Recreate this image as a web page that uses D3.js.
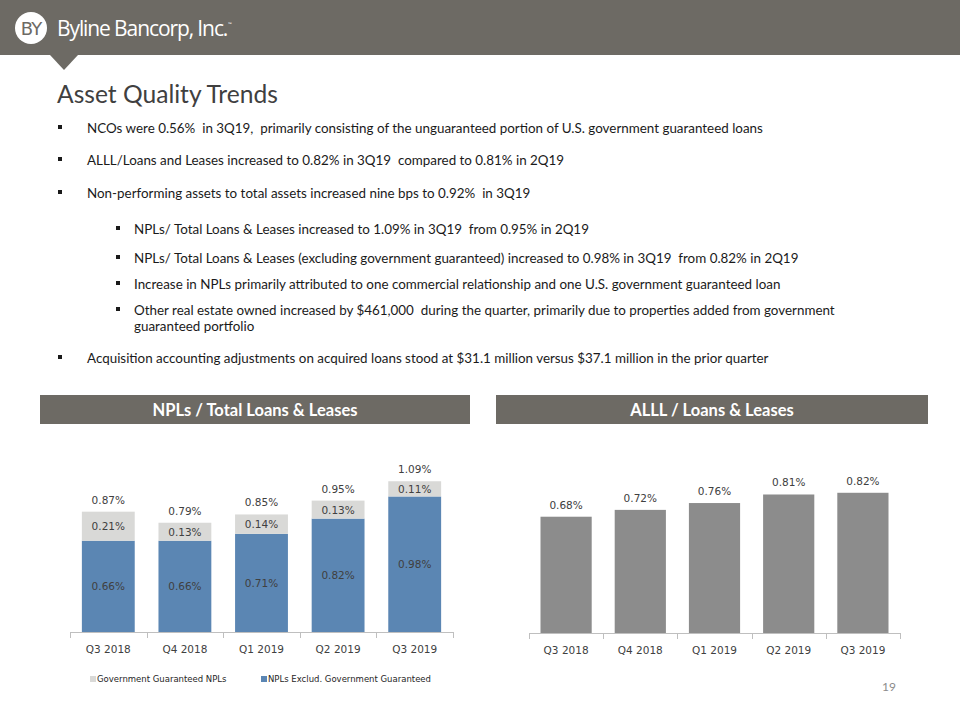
<!DOCTYPE html>
<html><head><meta charset="utf-8">
<script src="https://cdn.jsdelivr.net/npm/d3@7"></script>
<style>body{margin:0;background:#fff}svg{display:block}</style>
</head><body>
<svg id="c" width="960" height="720"></svg>
<script>
const categories = ["Q3 2018","Q4 2018","Q1 2019","Q2 2019","Q3 2019"];
const govGuaranteed = [0.21,0.13,0.14,0.13,0.11];
const nplExcl = [0.66,0.66,0.71,0.82,0.98];
const nplTotal = [0.87,0.79,0.85,0.95,1.09];
const alll = [0.68,0.72,0.76,0.81,0.82];
const legendLabels = ["Government Guaranteed NPLs","NPLs Exclud. Government Guaranteed"];
const bullets = [
 {lvl:0, t:"NCOs were 0.56%  in 3Q19,  primarily consisting of the unguaranteed portion of U.S. government guaranteed loans", y:133},
 {lvl:0, t:"ALLL/Loans and Leases increased to 0.82% in 3Q19  compared to 0.81% in 2Q19", y:165},
 {lvl:0, t:"Non-performing assets to total assets increased nine bps to 0.92%  in 3Q19", y:198},
 {lvl:1, t:"NPLs/ Total Loans & Leases increased to 1.09% in 3Q19  from 0.95% in 2Q19", y:234},
 {lvl:1, t:"NPLs/ Total Loans & Leases (excluding government guaranteed) increased to 0.98% in 3Q19  from 0.82% in 2Q19", y:263},
 {lvl:1, t:"Increase in NPLs primarily attributed to one commercial relationship and one U.S. government guaranteed loan", y:289},
 {lvl:1, t:"Other real estate owned increased by $461,000  during the quarter, primarily due to properties added from government", y:315},
 {lvl:-1, t:"guaranteed portfolio", y:331},
 {lvl:0, t:"Acquisition accounting adjustments on acquired loans stood at $31.1 million versus $37.1 million in the prior quarter", y:363}
];
const C = {band:"#6d6a64", blue:"#5b86b3", lgray:"#d9d9d7", dgray:"#8c8c8c", txt:"#404040", axis:"#bfbfbf"};
const svg = d3.select("#c");
const TF = "Lato, 'Open Sans', sans-serif";
const CF = "'DejaVu Sans', Verdana, sans-serif";

// header
svg.append("rect").attr("x",0).attr("y",0).attr("width",960).attr("height",55).attr("fill",C.band);
svg.append("path").attr("d","M50,55 L78,55 L64,70 Z").attr("fill",C.band);
svg.append("circle").attr("cx",31).attr("cy",28).attr("r",16).attr("fill","#fff");
svg.append("text").attr("x",31).attr("y",35).attr("text-anchor","middle").attr("font-family",CF)
  .attr("font-size",18).attr("fill",C.band).attr("letter-spacing",-1).text("BY");
svg.append("text").attr("x",57).attr("y",36).attr("font-family","'Open Sans', sans-serif").attr("font-size",21)
  .attr("letter-spacing",-1.1).attr("fill","#fff").text("Byline Bancorp, Inc.");
svg.append("text").attr("x",228).attr("y",26).attr("font-family",TF).attr("font-size",5).attr("fill","#fff").text("™");

svg.append("text").attr("x",57).attr("y",103).attr("font-family",TF).attr("font-size",24.6).attr("fill",C.txt).text("Asset Quality Trends");

// bullets
bullets.forEach(b=>{
  const tx = b.lvl===0?87:134;
  if(b.lvl>=0){
    const bx = b.lvl===0?58:116;
    svg.append("rect").attr("x",bx).attr("y",b.y-8).attr("width",4).attr("height",4).attr("fill","#1a1a1a");
  }
  svg.append("text").attr("x",tx).attr("y",b.y).attr("font-family",TF).attr("font-size",13.4)
    .attr("fill","#1a1a1a").attr("xml:space","preserve").style("white-space","pre").text(b.t);
});

// section headers
[[40,470,"NPLs / Total Loans & Leases"],[496,928,"ALLL / Loans & Leases"]].forEach(([x0,x1,t])=>{
  svg.append("rect").attr("x",x0).attr("y",395).attr("width",x1-x0).attr("height",29).attr("fill",C.band);
  svg.append("text").attr("x",(x0+x1)/2).attr("y",416).attr("text-anchor","middle").attr("font-family",TF)
    .attr("font-weight","bold").attr("font-size",16.5).attr("fill","#fff").text(t);
});

function axisBoundaries(g, x, y0){
  const r = x.range();
  g.append("line").attr("x1",r[0]).attr("x2",r[1]).attr("y1",y0+0.5).attr("y2",y0+0.5).attr("stroke",C.axis);
  const xs = categories.map(c=>x(c)-x.step()*x.paddingInner()/2).concat([r[1]]);
  xs.forEach(v=>g.append("line").attr("x1",Math.round(v)+0.5).attr("x2",Math.round(v)+0.5).attr("y1",y0).attr("y2",y0+6).attr("stroke",C.axis));
  const ax = d3.axisBottom(x).tickSize(0).tickPadding(14);
  const ga = g.append("g").attr("transform",`translate(0,${y0})`).call(ax);
  ga.select(".domain").remove();
  ga.selectAll("text").attr("font-family",CF).attr("font-size",10.5).attr("fill",C.txt);
}

// left chart
{
  const g = svg.append("g");
  const y0 = 632;
  const x = d3.scaleBand().domain(categories).range([70,453]).paddingInner(0.31).paddingOuter(0.155);
  const y = d3.scaleLinear().domain([0,1]).range([y0, y0-138.3]);
  categories.forEach((c,i)=>{
    g.append("rect").attr("x",x(c)).attr("width",x.bandwidth()).attr("y",y(nplExcl[i])).attr("height",y0-y(nplExcl[i])).attr("fill",C.blue);
    g.append("rect").attr("x",x(c)).attr("width",x.bandwidth()).attr("y",y(nplTotal[i])).attr("height",y(nplExcl[i])-y(nplTotal[i])).attr("fill",C.lgray);
    const cx = x(c)+x.bandwidth()/2;
    const lab = (v,yy)=>g.append("text").attr("x",cx).attr("y",yy).attr("text-anchor","middle").attr("dominant-baseline","central")
      .attr("font-family",CF).attr("font-size",10.5).attr("fill",C.txt).text(v.toFixed(2)+"%");
    lab(nplExcl[i],(y0+y(nplExcl[i]))/2);
    lab(govGuaranteed[i],(y(nplExcl[i])+y(nplTotal[i]))/2);
    lab(nplTotal[i],y(nplTotal[i])-12);
  });
  axisBoundaries(g,x,y0);
  const leg = [[90,C.lgray,legendLabels[0]],[261,C.blue,legendLabels[1]]];
  leg.forEach(([lx,col,t])=>{
    g.append("rect").attr("x",lx).attr("y",676).attr("width",6).attr("height",6).attr("fill",col);
    g.append("text").attr("x",lx+7).attr("y",679).attr("dominant-baseline","central").attr("font-family",CF)
      .attr("font-size",8.5).attr("fill","#262626").text(t);
  });
}

// right chart
{
  const g = svg.append("g");
  const y0 = 633;
  const x = d3.scaleBand().domain(categories).range([529,900]).paddingInner(0.31).paddingOuter(0.155);
  const y = d3.scaleLinear().domain([0,1]).range([y0, y0-171]);
  categories.forEach((c,i)=>{
    g.append("rect").attr("x",x(c)).attr("width",x.bandwidth()).attr("y",y(alll[i])).attr("height",y0-y(alll[i])).attr("fill",C.dgray);
    g.append("text").attr("x",x(c)+x.bandwidth()/2).attr("y",y(alll[i])-12).attr("text-anchor","middle").attr("dominant-baseline","central")
      .attr("font-family",CF).attr("font-size",10.5).attr("fill",C.txt).text(alll[i].toFixed(2)+"%");
  });
  axisBoundaries(g,x,y0);
}

svg.append("text").attr("x",882).attr("y",691).attr("font-family",TF).attr("font-size",12).attr("fill","#8c8c8c").text("19");
</script>
</body></html>
